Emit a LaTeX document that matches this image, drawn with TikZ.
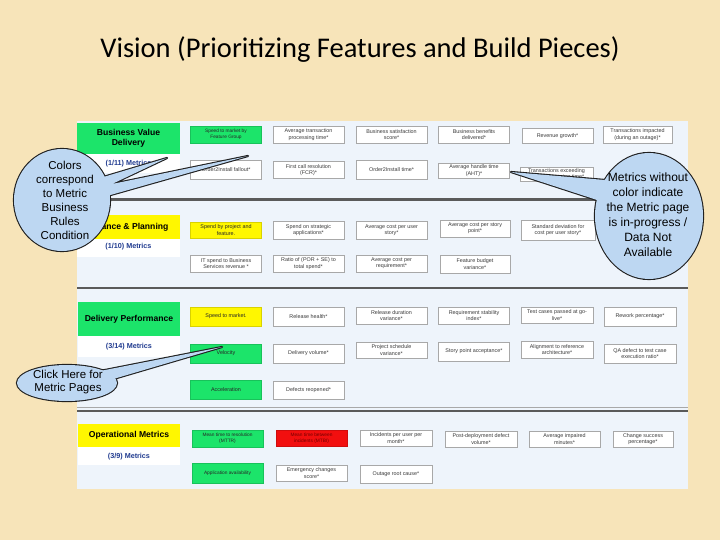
\documentclass[tikz,border=0pt]{standalone}
\usepackage{fontspec}
\setmainfont{Liberation Sans}
\newfontfamily\titlefont{Carlito}
\definecolor{parch}{HTML}{F7E4B9}
\definecolor{panel}{HTML}{EEF4FB}
\definecolor{boxgray}{HTML}{A8A8A8}
\definecolor{boxtext}{HTML}{3A3A3A}
\definecolor{mgreen}{HTML}{1CE46A}
\definecolor{myellow}{HTML}{FFF700}
\definecolor{mred}{HTML}{F20F0F}
\definecolor{capblue}{HTML}{1F3A8F}
\definecolor{sepgray}{HTML}{5A5A5A}
\definecolor{callblue}{HTML}{BDD7F2}
\definecolor{callline}{HTML}{202020}
\begin{document}
\begin{tikzpicture}[x=1pt,y=-1pt,
 mbox/.style={draw=boxgray,line width=0.5pt,fill=white,minimum width=71pt,minimum height=17pt,inner sep=0pt,align=center,font=\fontsize{5.4}{6.4}\selectfont,text=boxtext},
 gbox/.style={mbox,fill=mgreen,draw=mgreen!85!black,text=black!85},
 ybox/.style={mbox,fill=myellow,draw=myellow!85!black,text=black!85},
 rbox/.style={mbox,fill=mred,draw=mred!85!black,text=red!45!black},
 hdr/.style={minimum width=103pt,inner sep=0pt,align=center,font=\fontsize{8.6}{10}\bfseries\selectfont},
 captxt/.style={font=\fontsize{7.2}{9}\bfseries\selectfont,text=capblue,inner sep=0pt},
 ctext/.style={align=center,inner sep=0pt,text=black},
 sep/.style={draw=sepgray,line width=2.2pt},
 cfill/.style={fill=callblue},
 cline/.style={draw=callline,line width=2.2pt,line join=round}
]
\useasboundingbox (0,0) rectangle (720,540);
\fill[parch] (0,0) rectangle (720,540);
\node[font=\titlefont\fontsize{28.5}{32}\selectfont,inner sep=0pt] (title) at (360,50) {Vision (Prioritizing Features and Build Pieces)};
% panel
\fill[panel] (77,121) rectangle (688,489);
% section separators
\draw[sep] (77,199.5) -- (688,199.5);
\draw[sep] (77,288) -- (688,288);
\draw[draw=boxgray,line width=0.6pt] (77,407.5) -- (688,407.5);
\draw[sep] (77,411) -- (688,411);
% header white caption areas
\fill[white] (77,154) rectangle (180,173);
\fill[white] (77,239) rectangle (180,257);
\fill[white] (78,336) rectangle (180,357);
\fill[white] (78,447) rectangle (180,465);
% ---- Business Value Delivery
\node[hdr,fill=mgreen,minimum height=31pt] (h1) at (128.5,138.5) {Business Value\\Delivery};
\node[captxt] (c1) at (128.5,164) {(1/11) Metrics};
\node[gbox,font=\fontsize{4.8}{5.8}\selectfont] (b11) at (226,134.5) {Speed to market by\\Feature Group};
\node[mbox] (b12) at (308.5,134.5) {Average transaction\\processing time*};
\node[mbox] (b13) at (391.5,134.5) {Business satisfaction\\score*};
\node[mbox] (b14) at (474,134.5) {Business benefits\\delivered*};
\node[mbox,minimum height=15pt] (b15) at (557.5,136) {Revenue growth*};
\node[mbox,minimum width=69pt] (b16) at (637.5,134.5) {Transactions impacted\\(during an outage)*};
\node[mbox,minimum height=19pt] (b21) at (226,170) {Order2Install fallout*};
\node[mbox] (b22) at (308.5,170) {First call resolution\\(FCR)*};
\node[mbox,minimum height=19pt] (b23) at (391.5,170) {Order2Install time*};
\node[mbox,minimum height=15pt] (b24) at (474,170.5) {Average handle time\\(AHT)*};
\node[mbox,minimum width=73pt,minimum height=14pt] (b25) at (556.5,174) {Transactions exceeding\\target processing time*};
% ---- Finance & Planning
\node[hdr,fill=myellow,minimum height=24pt] (h2) at (128.5,227) {Finance \& Planning};
\node[captxt] (c2) at (128.5,247) {(1/10) Metrics};
\node[ybox,minimum height=16pt] (f11) at (226,230) {Spend by project and\\feature.};
\node[mbox,minimum height=18pt] (f12) at (308.5,230) {Spend on strategic\\applications*};
\node[mbox,minimum height=18pt] (f13) at (391.5,230) {Average cost per user\\story*};
\node[mbox,minimum width=70pt] (f14) at (475,228.5) {Average cost per story\\point*};
\node[mbox,minimum width=74pt,minimum height=20pt] (f15) at (558,230) {Standard deviation for\\cost per user story*};
\node[mbox] (f21) at (226,263.5) {IT spend to Business\\Services revenue *};
\node[mbox] (f22) at (308.5,263.5) {Ratio of (POR + SE) to\\total spend*};
\node[mbox] (f23) at (391.5,263.5) {Average cost per\\requirement*};
\node[mbox,minimum width=70pt,minimum height=18pt] (f24) at (475,264) {Feature budget\\variance*};
% ---- Delivery Performance
\node[hdr,fill=mgreen,minimum width=102pt,minimum height=34pt] (h3) at (129,319) {Delivery Performance};
\node[captxt] (c3) at (129,347) {(3/14) Metrics};
\node[ybox,minimum height=19pt] (d11) at (226,316.5) {Speed to market.};
\node[mbox,minimum height=19pt] (d12) at (308.5,316.5) {Release health*};
\node[mbox] (d13) at (391.5,315.5) {Release duration\\variance*};
\node[mbox] (d14) at (474,315.5) {Requirement stability\\index*};
\node[mbox,minimum width=72pt,minimum height=16pt] (d15) at (557,315) {Test cases passed at go-\\live*};
\node[mbox,minimum width=72pt,minimum height=19pt] (d16) at (640,316.5) {Rework percentage*};
\node[gbox,minimum height=19pt] (d21) at (226,353.5) {Velocity};
\node[mbox,minimum height=19pt] (d22) at (308.5,353.5) {Delivery volume*};
\node[mbox,minimum height=16pt] (d23) at (391.5,350) {Project schedule\\variance*};
\node[mbox,minimum height=19pt] (d24) at (474,351.5) {Story point acceptance*};
\node[mbox,minimum width=72pt] (d25) at (557,349.5) {Alignment to reference\\architecture*};
\node[mbox,minimum width=72pt,minimum height=19pt] (d26) at (640,353.5) {QA defect to test case\\execution ratio*};
\node[gbox,minimum height=19pt] (d31) at (226,389.5) {Acceleration};
\node[mbox,minimum height=18pt] (d32) at (308.5,390) {Defects reopened*};
% ---- Operational Metrics
\node[hdr,fill=myellow,minimum width=102pt,minimum height=23pt] (h4) at (129,435.5) {Operational Metrics};
\node[captxt] (c4) at (129,457) {(3/9) Metrics};
\node[gbox,font=\fontsize{4.8}{5.8}\selectfont] (o11) at (227.5,438.5) {Mean time to resolution\\(MTTR)};
\node[rbox,font=\fontsize{4.8}{5.8}\selectfont,minimum height=16pt] (o12) at (311.5,438) {Mean time between\\incidents (MTBI)};
\node[mbox,minimum width=72pt,minimum height=16pt] (o13) at (396,438) {Incidents per user per\\month*};
\node[mbox,minimum width=72pt,minimum height=16pt] (o14) at (481,439) {Post-deployment defect\\volume*};
\node[mbox,minimum height=16pt] (o15) at (564.5,439) {Average impaired\\minutes*};
\node[mbox,minimum width=60pt,minimum height=16pt] (o16) at (643,439) {Change success\\percentage*};
\node[gbox,minimum height=20pt,font=\fontsize{4.8}{5.8}\selectfont] (o21) at (227.5,473) {Application availability};
\node[mbox,minimum height=16pt] (o22) at (311.5,473) {Emergency changes\\score*};
\node[mbox,minimum width=72pt,minimum height=18pt] (o23) at (396,474) {Outage root cause*};
% ---- Callouts: outline pass
\draw[cline] (62,200) ellipse [x radius=48pt, y radius=51pt];
\draw[cline] (100,178) -- (167,158) -- (112,184) -- (248,156) -- (100,198) -- cycle;
\draw[cline] (649,216) ellipse [x radius=54pt, y radius=63pt];
\draw[cline] (605,180) -- (511,172) -- (597,200) -- cycle;
\draw[cline] (67,383) ellipse [x radius=50pt, y radius=18pt];
\draw[cline] (100,371) -- (222,347) -- (110,380) -- cycle;
% ---- Callouts: fill pass
\fill[cfill] (62,200) ellipse [x radius=48pt, y radius=51pt];
\fill[cfill] (100,178) -- (167,158) -- (112,184) -- (248,156) -- (100,198) -- cycle;
\fill[cfill] (649,216) ellipse [x radius=54pt, y radius=63pt];
\fill[cfill] (605,180) -- (511,172) -- (597,200) -- cycle;
\fill[cfill] (67,383) ellipse [x radius=50pt, y radius=18pt];
\fill[cfill] (100,371) -- (222,347) -- (110,380) -- cycle;
% ---- Callout texts
\node[ctext,font=\fontsize{11.5}{13.9}\selectfont] (t1) at (65,200.5) {Colors\\correspond\\to Metric\\Business\\Rules\\Condition};
\node[ctext,font=\fontsize{12}{15}\selectfont] (t2) at (648,215) {Metrics without\\color indicate\\the Metric page\\is in-progress /\\Data Not\\Available};
\node[ctext,font=\fontsize{11.5}{13}\selectfont] (t3) at (68,382.5) {Click Here for\\Metric Pages};
\end{tikzpicture}
\end{document}
